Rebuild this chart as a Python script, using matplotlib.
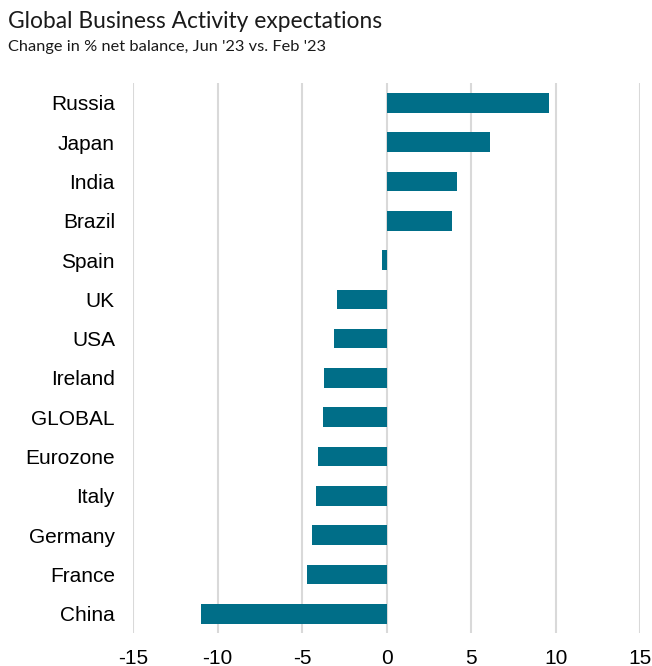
import matplotlib
matplotlib.use("Agg")
import matplotlib.pyplot as plt

# Change in % net balance, Jun '23 vs. Feb '23 (top to bottom)
countries = ["Russia", "Japan", "India", "Brazil", "Spain", "UK", "USA",
             "Ireland", "GLOBAL", "Eurozone", "Italy", "Germany", "France", "China"]
changes = [9.6, 6.1, 4.15, 3.85, -0.25, -2.95, -3.1,
           -3.7, -3.75, -4.05, -4.2, -4.4, -4.7, -11.0]
x_ticks = [-15, -10, -5, 0, 5, 10, 15]

bar_color = "#006e88"
grid_color = "#d9d9d9"

fig = plt.figure(figsize=(6.52, 6.66), dpi=100)
ax = fig.add_axes([0.204, 0.049, 0.778, 0.826])

y = list(range(len(countries)))
ax.barh(y, changes, height=0.5, color=bar_color, zorder=3)

ax.set_ylim(len(countries) - 0.5, -0.5)
ax.set_xlim(-15, 15)
ax.set_xticks(x_ticks)
ax.set_xticklabels([str(t) for t in x_ticks])
ax.set_yticks(y)
ax.set_yticklabels(countries)

ax.grid(axis="x", color=grid_color, linewidth=1.5, zorder=0)
ax.grid(axis="y", visible=False)
for s in ax.spines.values():
    s.set_visible(False)

ax.tick_params(axis="both", length=0, labelsize=15, colors="#000000")
ax.tick_params(axis="y", pad=13)
ax.tick_params(axis="x", pad=11)
for lbl in ax.get_xticklabels() + ax.get_yticklabels():
    lbl.set_fontfamily("Liberation Sans")

fig.text(0.012, 0.968, "Global Business Activity expectations", fontsize=16.4,
         family="Lato", color="#1a1a1a", va="center", ha="left")
fig.text(0.012, 0.929, "Change in % net balance, Jun '23 vs. Feb '23", fontsize=11.8,
         family="Lato", color="#1a1a1a", va="center", ha="left")

fig.savefig("out.png", dpi=100, facecolor="white")
